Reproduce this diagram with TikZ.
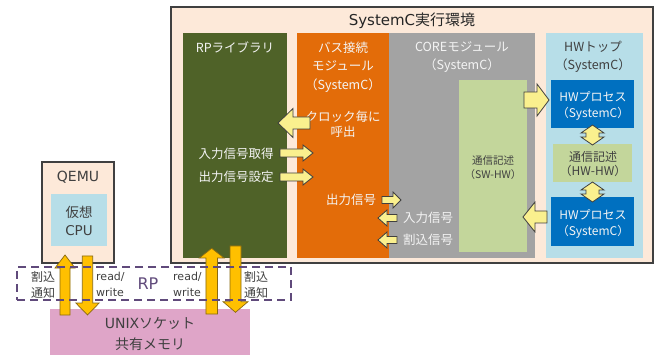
\documentclass[tikz,border=0pt]{standalone}
\usepackage{fontspec}
\setmainfont{Noto Sans CJK JP}
\newfontfamily\latfont{DejaVu Sans}
\newcommand\lat[1]{{\latfont #1}}
\definecolor{peach}{HTML}{FDE9D9}
\definecolor{rpgreen}{HTML}{4F6228}
\definecolor{busorange}{HTML}{E36C09}
\definecolor{coregray}{HTML}{A3A3A3}
\definecolor{lgreen}{HTML}{C3D69B}
\definecolor{lblue}{HTML}{B7DEE8}
\definecolor{hwblue}{HTML}{0070C0}
\definecolor{unixpink}{HTML}{DFA5C8}
\definecolor{arrfill}{HTML}{FAF08E}
\definecolor{arrline}{HTML}{404040}
\definecolor{yfill}{HTML}{FFC000}
\definecolor{yline}{HTML}{8A6A10}
\definecolor{rppurple}{HTML}{604A7B}
\definecolor{dtext}{HTML}{404040}
\definecolor{wtext}{HTML}{F4F4F4}
\newcommand\hblock[7][barr]{\draw[#1] (#2,{#5-#6}) -- (#3,{#5-#6}) -- (#3,{#5-#7}) -- (#4,#5) -- (#3,{#5+#7}) -- (#3,{#5+#6}) -- (#2,{#5+#6}) -- cycle;}
\newcommand\vblock[7][yarr]{\draw[#1] ({#5-#6},#2) -- ({#5-#6},#3) -- ({#5-#7},#3) -- (#5,#4) -- ({#5+#7},#3) -- ({#5+#6},#3) -- ({#5+#6},#2) -- cycle;}
\newcommand\dvblock[6]{\draw[barr] (#1,#2) -- ({#1+#6},{#2+#4}) -- ({#1+#5},{#2+#4}) -- ({#1+#5},{#3-#4}) -- ({#1+#6},{#3-#4}) -- (#1,#3) -- ({#1-#6},{#3-#4}) -- ({#1-#5},{#3-#4}) -- ({#1-#5},{#2+#4}) -- ({#1-#6},{#2+#4}) -- cycle;}
\begin{document}
\begin{tikzpicture}[x=1pt,y=-1pt,
  box/.style={inner sep=0pt,outer sep=0pt,draw=none},
  lbl/.style={inner sep=0pt,align=center,font=\fontsize{12.5}{18.5}\selectfont},
  barr/.style={draw=arrline,fill=arrfill,line width=0.8pt,line join=miter},
  yarr/.style={draw=yline,fill=yfill,line width=0.7pt,line join=miter}]
\useasboundingbox (0,0) rectangle (658,355);
\fill[white] (0,0) rectangle (658,355);
% SystemC environment
\node[box,fill=peach,draw=arrline,line width=1.1pt,minimum width=482pt,minimum height=256pt] (env) at (412,135) {};
\node[lbl,font=\fontsize{15}{17}\selectfont,text=black!85] (envt) at (412,21) {\lat{SystemC}実行環境};
\node[box,fill=rpgreen,minimum width=104pt,minimum height=225pt] (rplib) at (235,145.5) {};
\node[box,fill=busorange,minimum width=92pt,minimum height=225pt] (bus) at (343,145.5) {};
\node[box,fill=coregray,minimum width=146pt,minimum height=225pt] (core) at (462,145.5) {};
\node[box,fill=lgreen,minimum width=68pt,minimum height=172pt] (swhw) at (493,166) {};
\node[box,fill=lblue,minimum width=97pt,minimum height=225pt] (hwtop) at (594.5,145.5) {};
\node[box,fill=hwblue,minimum width=83pt,minimum height=48pt] (hwp1) at (592.5,104) {};
\node[box,fill=lgreen,minimum width=79pt,minimum height=38pt] (hwhw) at (592.5,163) {};
\node[box,fill=hwblue,minimum width=83pt,minimum height=49pt] (hwp2) at (592.5,221.5) {};
% labels
\node[lbl,text=wtext] (rplibt) at (235,47) {RPライブラリ};
\node[lbl,text=wtext] (bust) at (343,67) {バス接続\\モジュール\\（SystemC）};
\node[lbl,text=wtext,font=\fontsize{12.5}{15}\selectfont] (clk) at (343,124.5) {クロック毎に\\呼出};
\node[lbl,text=wtext] (inget) at (236,154) {入力信号取得};
\node[lbl,text=wtext] (outset) at (236,177) {出力信号設定};
\node[lbl,text=wtext] (outsig) at (351,200) {出力信号};
\node[lbl,text=wtext] (insig) at (428,218) {入力信号};
\node[lbl,text=wtext] (irqsig) at (428,240) {割込信号};
\node[lbl,text=wtext] (coret) at (462,57) {COREモジュール\\（SystemC）};
\node[lbl,text=dtext,font=\fontsize{10.5}{13.5}\selectfont] (swhwt) at (493,167.5) {通信記述\\（SW-HW）};
\node[lbl,text=dtext] (hwtopt) at (593,57) {HWトップ\\（SystemC）};
\node[lbl,text=wtext,font=\fontsize{12}{16}\selectfont] (hwp1t) at (593,106) {HWプロセス\\（SystemC）};
\node[lbl,text=dtext,font=\fontsize{12}{14}\selectfont] (hwhwt) at (593,164) {通信記述\\（HW-HW）};
\node[lbl,text=wtext,font=\fontsize{12}{16}\selectfont] (hwp2t) at (593,223.5) {HWプロセス\\（SystemC）};
% block arrows
\hblock{310}{293}{278}{123}{6}{14.5}
\hblock{280}{303}{313}{153}{4}{8}
\hblock{280}{303}{313}{177}{4}{8}
\hblock{382}{393}{401}{200}{3.5}{8}
\hblock{397}{387}{378}{218}{3.5}{8}
\hblock{397}{387}{378}{240}{3.5}{8}
\hblock{524}{537}{549}{100}{8}{16}
\hblock{547}{535}{523}{217}{6}{15}
\dvblock{592.5}{125}{145}{8}{6.5}{11.5}
\dvblock{592.5}{182}{202}{8}{6.5}{11.5}
% QEMU
\node[box,fill=peach,draw=arrline,line width=1.2pt,minimum width=72pt,minimum height=101pt] (qemu) at (78,212.5) {};
\node[lbl,text=dtext,font=\fontsize{14}{16}\selectfont] (qemut) at (78,177) {\lat{QEMU}};
\node[box,fill=lblue,minimum width=56pt,minimum height=52pt] (vcpu) at (79,220) {};
\node[lbl,text=dtext,font=\fontsize{13.5}{18}\selectfont] (vcput) at (79,221) {仮想\\\lat{CPU}};
% UNIX socket
\node[box,fill=unixpink,minimum width=200pt,minimum height=46pt] (unix) at (150,332) {};
\node[lbl,text=dtext,font=\fontsize{14}{21}\selectfont] (unixt) at (150,334.5) {\lat{UNIX}ソケット\\共有メモリ};
% vertical arrows
\vblock{315}{268}{255}{65}{5}{10}
\vblock{256}{303}{315}{87.5}{5.2}{11.7}
\vblock{314}{258}{248.3}{211.7}{5.8}{12.3}
\vblock{246}{301.7}{312.3}{235.5}{5.5}{12.5}
% RP
\node[box,draw=rppurple,line width=2.6pt,dash pattern=on 8pt off 5pt,minimum width=274pt,minimum height=33pt] (rp) at (154,283.5) {};
\node[lbl,text=rppurple,font=\fontsize{16}{18}\selectfont] (rpt) at (148,284) {\lat{RP}};
\node[lbl,text=dtext,font=\fontsize{12}{16}\selectfont] (irq1) at (43,284.5) {割込\\通知};
\node[lbl,text=dtext,font=\fontsize{11}{16}\latfont,align=left,anchor=west] (rw1) at (96,284.5) {read/\\write};
\node[lbl,text=dtext,font=\fontsize{11}{16}\latfont,align=left,anchor=west] (rw2) at (173,284.5) {read/\\write};
\node[lbl,text=dtext,font=\fontsize{12}{16}\selectfont] (irq2) at (256,284.5) {割込\\通知};
\end{tikzpicture}
\end{document}
